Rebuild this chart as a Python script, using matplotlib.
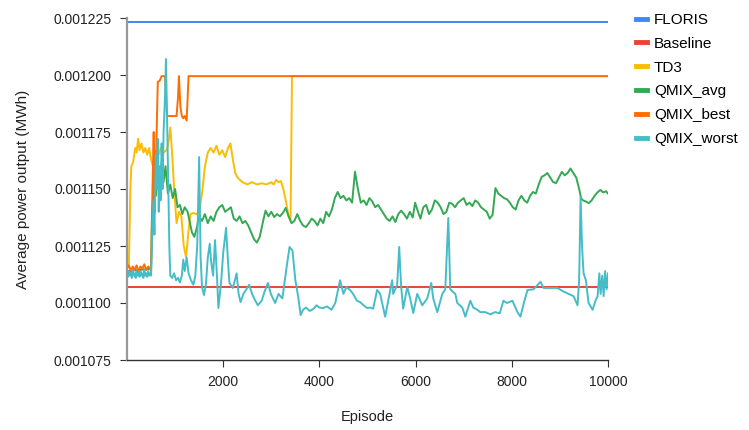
import matplotlib.pyplot as plt
import numpy as np
from matplotlib.ticker import FormatStrFormatter

plt.rcParams['font.family'] = ['Liberation Sans', 'DejaVu Sans']

# valores en 1e-6 MWh (se escalan abajo)
floris_ep = [0, 10000]
floris_val = [1223.2, 1223.2]

baseline_ep = [0, 10000]
baseline_val = [1107.0, 1107.0]

td3_ep = [0, 40, 70, 90, 130, 170, 200, 230, 260, 300, 340, 380, 420, 460, 500, 540, 580, 620,
          660, 700, 760, 820, 860, 900, 940, 980, 1030, 1080, 1130, 1180, 1230, 1270, 1320, 1380,
          1440, 1500, 1560, 1620, 1680, 1740, 1800, 1860, 1920, 1980, 2040, 2100, 2150, 2200, 2250,
          2300, 2400, 2500, 2600, 2700, 2800, 2900, 3000, 3050, 3100, 3150, 3200, 3250, 3300, 3360,
          3400, 3430, 10000]
td3_val = [1116, 1117, 1150, 1160, 1162, 1168, 1166, 1172, 1167, 1170, 1166, 1168, 1165, 1168,
           1163, 1160, 1166, 1167, 1165, 1168, 1166, 1167, 1170, 1177, 1165, 1150, 1135, 1140,
           1138, 1125, 1120, 1130, 1139, 1139.5, 1139, 1140, 1148, 1160, 1166, 1168, 1166, 1169,
           1165, 1167, 1164, 1168, 1170, 1163, 1157, 1155, 1153, 1152, 1153, 1152, 1152.5, 1152,
           1153, 1152, 1154, 1153, 1153.5, 1150, 1145, 1138, 1136, 1199.5, 1199.5]

avg_ep = [0, 500, 520, 560, 600, 640, 680, 720, 760, 800, 850, 900, 950, 1000, 1050, 1100, 1150,
          1200, 1260, 1300, 1350, 1400, 1450, 1500, 1560, 1620, 1680, 1740, 1800, 1860, 1920, 1980,
          2040, 2100, 2160, 2220, 2280, 2340, 2400, 2460, 2520, 2580, 2640, 2700, 2760, 2820, 2880,
          2940, 3000, 3060, 3120, 3180, 3240, 3300, 3360, 3420, 3480, 3540, 3600, 3660, 3720, 3780,
          3840, 3900, 3960, 4020, 4080, 4140, 4200, 4260, 4320, 4380, 4440, 4500, 4560, 4620, 4680,
          4740, 4800, 4860, 4920, 4980, 5040, 5100, 5160, 5220, 5280, 5340, 5400, 5460, 5520, 5580,
          5640, 5700, 5760, 5820, 5880, 5940, 5990, 6050, 6100, 6160, 6220, 6280, 6340, 6400, 6460,
          6520, 6580, 6640, 6700, 6760, 6820, 6880, 6940, 7000, 7060, 7120, 7180, 7240, 7300, 7360,
          7420, 7480, 7540, 7600, 7660, 7720, 7780, 7840, 7900, 7960, 8020, 8080, 8140, 8200, 8260,
          8320, 8380, 8440, 8500, 8560, 8620, 8680, 8740, 8800, 8860, 8920, 8980, 9040, 9100, 9160,
          9220, 9280, 9340, 9400, 9440, 9480, 9540, 9600, 9660, 9720, 9780, 9840, 9900, 9960, 10000]
avg_val = [1114, 1115, 1140, 1150, 1147, 1158, 1150, 1162, 1153, 1160, 1148, 1152, 1146, 1150,
           1142, 1143, 1139, 1142, 1140, 1136, 1131, 1129, 1133, 1138, 1136, 1139, 1135, 1138,
           1136, 1140, 1142, 1143, 1140, 1141, 1142, 1137, 1136, 1138, 1135, 1136, 1134, 1131,
           1128, 1126.5, 1129, 1135, 1140.5, 1138, 1140, 1137.7, 1139, 1138, 1139.5, 1141.7, 1138,
           1135, 1136, 1139, 1136, 1134, 1133.3, 1135, 1137, 1136, 1134, 1137, 1135, 1140, 1138,
           1141, 1146, 1148.7, 1146, 1147, 1145, 1146, 1144, 1157.6, 1150, 1144, 1145, 1143, 1146,
           1144.5, 1142, 1143, 1141, 1139, 1137, 1136, 1138, 1135.5, 1139, 1140.5, 1139, 1137,
           1140, 1137.5, 1144, 1140, 1137, 1142, 1143, 1139, 1141, 1145, 1144, 1142, 1139, 1140,
           1144, 1143.5, 1142, 1144, 1145, 1146, 1143, 1144, 1142.5, 1145, 1144, 1142, 1141, 1140,
           1137, 1138.6, 1150.4, 1148, 1147, 1146, 1145.5, 1144, 1142, 1141, 1145, 1147, 1145,
           1144, 1147, 1148.7, 1148, 1152, 1155.3, 1156, 1157, 1155, 1153, 1152.6, 1155, 1157.5,
           1156, 1157, 1159, 1157, 1155, 1150, 1146, 1145, 1144.5, 1143.8, 1145, 1147, 1148.5,
           1149.6, 1148.5, 1149, 1148]

best_ep = [0, 40, 80, 120, 160, 200, 240, 280, 320, 360, 400, 440, 480, 500, 530, 555, 575, 600,
           640, 680, 720, 790, 830, 1030, 1060, 1080, 1110, 1140, 1170, 1200, 1240, 1280, 10000]
best_val = [1115, 1116.5, 1114, 1116, 1114.5, 1116.5, 1114, 1116, 1115, 1117, 1114.5, 1116, 1115,
            1114, 1150, 1175, 1140, 1160, 1197, 1197.5, 1199.5, 1199.5, 1182, 1182, 1190, 1199.5,
            1186, 1182, 1181, 1182, 1180, 1199.5, 1199.5]

worst_ep = [0, 20, 40, 60, 80, 100, 120, 140, 160, 180, 200, 220, 240, 260, 280, 300, 320, 340,
            360, 380, 400, 420, 440, 460, 480, 500, 520, 550, 570, 600, 620, 640, 660, 680, 700,
            720, 740, 760, 790, 810, 830, 860, 880, 900, 940, 980, 1020, 1060, 1100, 1140, 1170,
            1200, 1240, 1280, 1330, 1380, 1420, 1460, 1500, 1530, 1560, 1600, 1640, 1680, 1720,
            1750, 1790, 1830, 1870, 1900, 1960, 2000, 2060, 2100, 2130, 2200, 2280, 2320, 2360,
            2420, 2480, 2540, 2600, 2660, 2720, 2800, 2860, 2930, 2990, 3080, 3150, 3230, 3330,
            3380, 3440, 3500, 3560, 3610, 3660, 3720, 3800, 3880, 3940, 4000, 4080, 4160, 4250,
            4330, 4430, 4500, 4560, 4638, 4700, 4780, 4846, 4920, 4992, 5050, 5117, 5200, 5263,
            5325, 5367, 5430, 5513, 5534, 5617, 5659, 5700, 5742, 5826, 5888, 5951, 6034, 6138,
            6242, 6326, 6367, 6451, 6555, 6617, 6680, 6721, 6825, 6867, 6971, 7034, 7138, 7200,
            7284, 7346, 7450, 7555, 7650, 7750, 7826, 7900, 8013, 8117, 8180, 8250, 8326, 8450,
            8597, 8659, 8800, 8950, 9076, 9180, 9284, 9367, 9400, 9430, 9460, 9492, 9540, 9596,
            9680, 9740, 9784, 9820, 9846, 9880, 9909, 9940, 9970, 10000]
worst_val = [1113, 1111.5, 1114, 1112, 1113.5, 1111, 1114.5, 1112, 1113, 1111, 1114, 1112, 1113.5,
             1111.5, 1114, 1112, 1113, 1111, 1114.5, 1112, 1113, 1111.5, 1114, 1112, 1113, 1112,
             1127, 1145, 1130, 1165, 1150, 1172, 1140, 1160, 1145, 1170, 1150, 1175, 1190, 1207,
             1185, 1150, 1125, 1112, 1111, 1113, 1110, 1111, 1109, 1112, 1119, 1114, 1120, 1113,
             1110, 1108, 1112, 1125, 1164, 1120, 1107, 1103.5, 1108, 1120, 1126, 1118, 1112,
             1127.6, 1112, 1097.8, 1110, 1122, 1133, 1118, 1108.8, 1106.6, 1113, 1104, 1100.4,
             1104, 1106, 1108, 1104, 1101.3, 1099, 1101, 1105, 1108.8, 1104, 1100, 1104, 1102,
             1117.5, 1124.6, 1123, 1110, 1102.6, 1094.7, 1097, 1098, 1096.5, 1097.5, 1099, 1098,
             1097.8, 1098.5, 1097, 1100, 1110, 1104, 1107, 1105.7, 1104, 1101, 1100.4, 1099,
             1097.8, 1098, 1097.5, 1105.7, 1104, 1098, 1094, 1101, 1110, 1104, 1108, 1124.6, 1107,
             1097.5, 1107, 1102, 1095.6, 1104, 1099, 1102, 1108.8, 1102, 1096, 1104, 1106, 1137.3,
             1106, 1104, 1100, 1098, 1094, 1101, 1098, 1097, 1096, 1096, 1095, 1096, 1095.5, 1101,
             1100, 1101, 1096, 1094, 1100, 1105.7, 1106, 1109.3, 1106.6, 1106.6, 1106.6, 1105, 1104,
             1103, 1099, 1110, 1146.5, 1125, 1113, 1110, 1100, 1097, 1101, 1103, 1113, 1104, 1112,
             1103, 1114, 1106, 1113]

series = [
    ("FLORIS", floris_ep, floris_val, "#4285f4"),
    ("Baseline", baseline_ep, baseline_val, "#ea4335"),
    ("TD3", td3_ep, td3_val, "#fbbc04"),
    ("QMIX_avg", avg_ep, avg_val, "#34a853"),
    ("QMIX_best", best_ep, best_val, "#ff6d01"),
    ("QMIX_worst", worst_ep, worst_val, "#46bdc6"),
]

fig = plt.figure(figsize=(7.49, 4.30), dpi=100)
ax = fig.add_axes([127 / 749, 1 - 360 / 430, 481 / 749, 342 / 430])

for nombre, eps, vals, col in series:
    ax.plot(eps, np.array(vals) * 1e-6, color=col, lw=1.4, label=nombre)

ax.set_xlim(0, 10000)
ax.set_ylim(0.001075, 0.001225)
ax.set_xticks([2000, 4000, 6000, 8000, 10000])
ax.set_yticks(np.arange(0.001075, 0.0012251, 0.000025))
ax.yaxis.set_major_formatter(FormatStrFormatter('%.6f'))
ax.tick_params(axis='both', labelsize=10, length=5, color='#333333', labelcolor='#222222')
ax.tick_params(axis='y', pad=6)
ax.tick_params(axis='x', pad=6)

for s in ['top', 'right']:
    ax.spines[s].set_visible(False)
ax.spines['left'].set_color('#999999')
ax.spines['left'].set_linewidth(1.6)
ax.spines['bottom'].set_color('#333333')
ax.spines['bottom'].set_linewidth(1.0)

ax.set_xlabel("Episode", fontsize=10.5, color='#222222')
ax.set_ylabel("Average power output (MWh)", fontsize=11, color='#222222')
ax.yaxis.set_label_coords(-0.202, 0.5)
ax.xaxis.set_label_coords(0.5, -0.147)

leg = fig.legend(loc='upper left', bbox_to_anchor=(636 / 749, 1 - 13 / 430), frameon=False,
                 fontsize=11, handlelength=0.72, handletextpad=0.45, labelspacing=0.64,
                 borderpad=0, borderaxespad=0)
for h in leg.legend_handles:
    h.set_linewidth(3.5)

fig.savefig("out.png", dpi=100)
